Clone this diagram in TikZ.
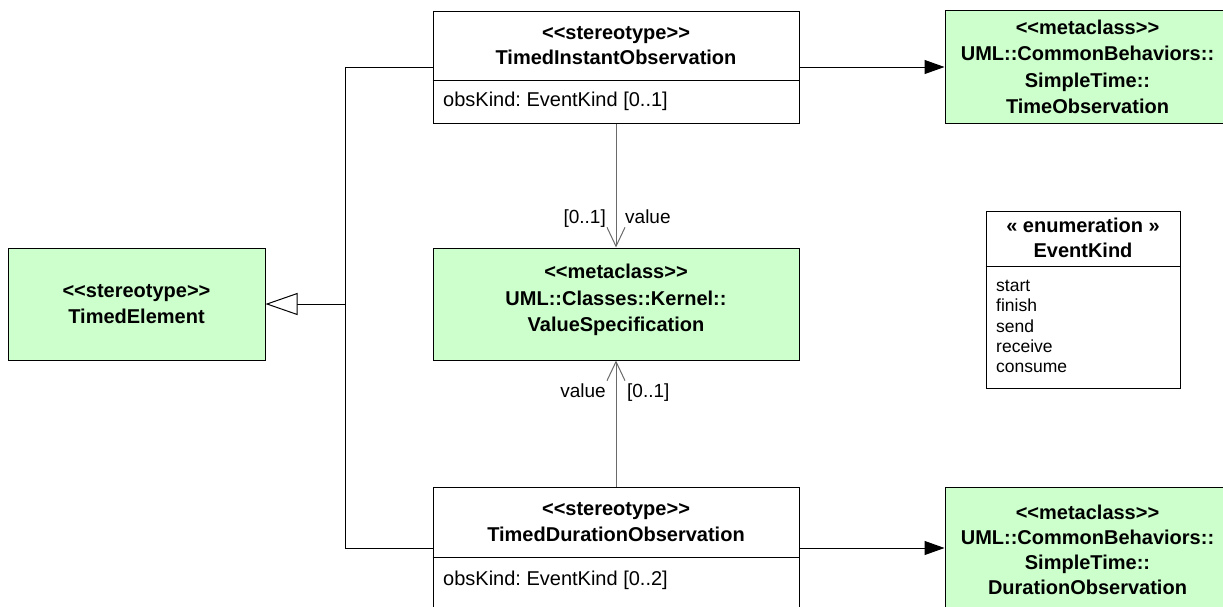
\documentclass[tikz,border=0pt]{standalone}
\usepackage{fontspec}
\setmainfont{Liberation Sans}[Ligatures=TeXOff]
\usetikzlibrary{arrows.meta}
\definecolor{umlgreen}{HTML}{CCFFCC}
\definecolor{conngray}{HTML}{6A6A6A}
\frenchspacing
\begin{document}
\begin{tikzpicture}[x=1pt,y=-1pt,
  clsbox/.style={draw=black, line width=1pt, rectangle, inner sep=0pt, fill=white},
  greenbox/.style={clsbox, fill=umlgreen},
  hdrtext/.style={font=\fontsize{20}{25.5}\selectfont\bfseries, align=center, inner sep=0pt},
  attrtext/.style={font=\fontsize{20}{24}\selectfont, anchor=west, inner sep=0pt},
  lbltext/.style={font=\fontsize{19}{22}\selectfont, inner sep=0pt, text height=14pt, text depth=4pt},
  itemtext/.style={font=\fontsize{17.5}{20.3}\selectfont, anchor=base west, inner sep=0pt},
  divider/.style={draw=black, line width=1pt},
  assoc/.style={draw=conngray, line width=1pt, -{Straight Barb[length=19pt, width=18pt]}},
  depline/.style={draw=black, line width=1pt, -{Triangle[length=20pt, width=14pt]}},
  genline/.style={draw=black, line width=1pt},
  genarrow/.style={draw=black, line width=1pt, -{Triangle[open, length=32pt, width=22pt, fill=white]}}
]
\useasboundingbox (0,0) rectangle (1223,606);
\clip (0,0) rectangle (1223,606);

% TimedElement
\node[greenbox, minimum width=257pt, minimum height=112pt] (te) at (136.5,304) {};
\node[hdrtext] (teT) at (te.center) {<<stereotype>>\\TimedElement};

% TimedInstantObservation
\node[clsbox, minimum width=366pt, minimum height=112pt] (tio) at (616,67) {};
\node[hdrtext] (tioT) at (616,45.5) {<<stereotype>>\\TimedInstantObservation};
\draw[divider] (tio.west |- 0,80) -- (tio.east |- 0,80);
\node[attrtext] (tioA) at (443,101.5) {obsKind: EventKind [0..1]};

% ValueSpecification
\node[greenbox, minimum width=366pt, minimum height=112pt] (vs) at (616,304) {};
\node[hdrtext, font=\fontsize{20}{26.5}\selectfont\bfseries] (vsT) at (616,300) {<<metaclass>>\\UML::Classes::Kernel::\\ValueSpecification};

% TimedDurationObservation
\node[clsbox, minimum width=366pt, minimum height=122pt] (tdo) at (616,548) {};
\node[hdrtext] (tdoT) at (616,522) {<<stereotype>>\\TimedDurationObservation};
\draw[divider] (tdo.west |- 0,557) -- (tdo.east |- 0,557);
\node[attrtext] (tdoA) at (443,580) {obsKind: EventKind [0..2]};

% TimeObservation
\node[greenbox, minimum width=285pt, minimum height=113pt] (to) at (1087.5,66.5) {};
\node[hdrtext, font=\fontsize{20}{26.5}\selectfont\bfseries] (toT) at (1087.5,67) {<<metaclass>>\\UML::CommonBehaviors::\\SimpleTime::\\TimeObservation};

% DurationObservation
\node[greenbox, minimum width=285pt, minimum height=124pt] (do) at (1087.5,549) {};
\node[hdrtext, font=\fontsize{20}{25}\selectfont\bfseries] (doT) at (1087.5,550) {<<metaclass>>\\UML::CommonBehaviors::\\SimpleTime::\\DurationObservation};

% EventKind enumeration
\node[clsbox, minimum width=194pt, minimum height=177pt] (ek) at (1083,299.5) {};
\node[hdrtext] (ekT) at (1083,238) {« enumeration »\\EventKind};
\draw[divider] (ek.west |- 0,266) -- (ek.east |- 0,266);
\node[itemtext] (i1) at (996,291.5) {start};
\node[itemtext] (i2) at (996,311.8) {finish};
\node[itemtext] (i3) at (996,332.1) {send};
\node[itemtext] (i4) at (996,352.4) {receive};
\node[itemtext] (i5) at (996,372.7) {consume};

% generalization
\coordinate (jt) at (345,67);
\coordinate (jm) at (345,304);
\coordinate (jb) at (345,548);
\draw[genline] (tio.west) -- (jt) -- (jb) -- (tdo.west);
\draw[genarrow] (jm) -- (te.east);

% dependencies to metaclasses
\draw[depline] (tio.east) -- (tio.east -| to.west);
\draw[depline] (tdo.east) -- (tdo.east -| do.west);

% associations
\draw[assoc] (tio.south) -- (vs.north);
\node[lbltext, anchor=east] (l1) at (606,218) {[0..1]};
\node[lbltext, anchor=west] (l2) at (625,218) {value};
\draw[assoc] (tdo.north) -- (vs.south);
\node[lbltext, anchor=east] (l3) at (606,392) {value};
\node[lbltext, anchor=west] (l4) at (627,392) {[0..1]};
\end{tikzpicture}
\end{document}
